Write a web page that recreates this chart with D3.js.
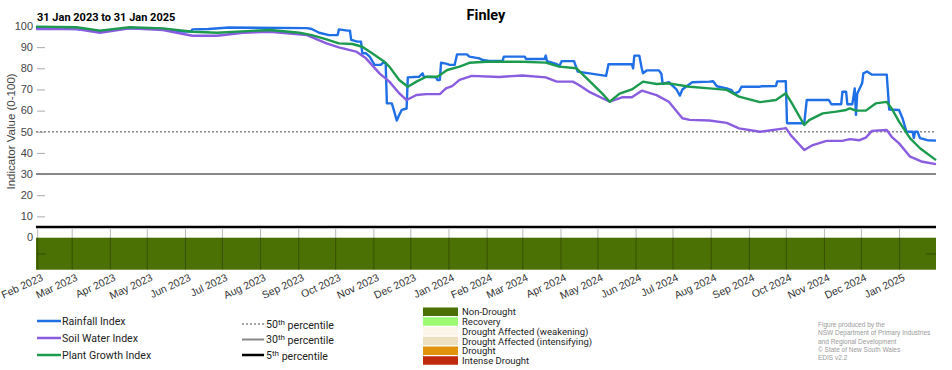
<!DOCTYPE html>
<html>
<head>
<meta charset="utf-8">
<script src="https://cdn.jsdelivr.net/npm/d3@7"></script>
<style>
  body { margin: 0; background: #fff; }
  svg { display: block; font-family: "Liberation Sans", Arial, sans-serif; }
  .legend text { font-family: Roboto, "Liberation Sans", sans-serif; }
</style>
</head>
<body>
<svg id="chart" width="952" height="370"></svg>
<script>
const title = "Finley";
const period = "31 Jan 2023 to 31 Jan 2025";
const dateRange = ["2023-01-31", "2025-01-31"];
const yTicks = [0, 10, 20, 30, 40, 50, 60, 70, 80, 90, 100];

const rainfall = [
    ["2023-01-31", 99], ["2023-03-05", 98.6], ["2023-03-24", 97.6], ["2023-04-17", 99],
    ["2023-05-14", 98.6], ["2023-05-30", 97.4], ["2023-06-06", 97.4], ["2023-06-07", 98.4],
    ["2023-06-20", 98.6], ["2023-07-07", 99.3], ["2023-09-08", 99], ["2023-09-12", 98.6],
    ["2023-09-18", 96.8], ["2023-09-26", 95.7], ["2023-10-03", 95.7], ["2023-10-04", 98.4],
    ["2023-10-11", 97.8], ["2023-10-13", 97.8], ["2023-10-14", 93.4], ["2023-10-19", 92.6],
    ["2023-10-22", 92.6], ["2023-10-23", 87.1], ["2023-10-26", 87.1], ["2023-10-29", 85.5],
    ["2023-11-02", 81.6], ["2023-11-07", 81.6], ["2023-11-09", 82.7], ["2023-11-11", 82.5],
    ["2023-11-12", 63.4], ["2023-11-16", 63.4], ["2023-11-18", 59.5], ["2023-11-20", 55.3],
    ["2023-11-22", 57.9], ["2023-11-24", 60.3], ["2023-11-28", 61], ["2023-11-29", 75.7],
    ["2023-12-08", 76], ["2023-12-11", 77.6], ["2023-12-12", 76], ["2023-12-22", 75.8],
    ["2023-12-23", 74.5], ["2023-12-25", 74.5], ["2023-12-26", 82.6], ["2023-12-30", 82.2],
    ["2024-01-02", 81.6], ["2024-01-06", 81.6], ["2024-01-08", 86.6], ["2024-01-16", 86.6],
    ["2024-01-18", 85.5], ["2024-01-26", 84.7], ["2024-01-29", 83.9], ["2024-02-03", 83.5],
    ["2024-02-14", 83.5], ["2024-02-15", 85.5], ["2024-03-03", 85.5], ["2024-03-04", 84.4],
    ["2024-03-19", 84.4], ["2024-03-20", 86], ["2024-03-21", 83.4], ["2024-03-29", 82],
    ["2024-03-31", 81], ["2024-04-02", 83.4], ["2024-04-12", 83.4], ["2024-04-15", 78.4],
    ["2024-05-08", 76.4], ["2024-05-10", 81.9], ["2024-05-29", 81.9], ["2024-05-30", 80],
    ["2024-05-31", 86], ["2024-06-04", 86], ["2024-06-06", 80], ["2024-06-07", 77.7],
    ["2024-06-10", 79], ["2024-06-20", 79], ["2024-06-22", 77.3], ["2024-06-23", 72.6],
    ["2024-06-28", 73.4], ["2024-07-04", 70.2], ["2024-07-07", 67.1], ["2024-07-09", 70],
    ["2024-07-15", 72.6], ["2024-07-17", 73.4], ["2024-07-31", 73.7], ["2024-08-03", 73.9],
    ["2024-08-06", 71.5], ["2024-08-14", 70.5], ["2024-08-18", 69.7], ["2024-08-20", 68],
    ["2024-08-24", 69], ["2024-08-26", 71.3], ["2024-09-10", 71.3], ["2024-09-11", 71.5],
    ["2024-09-23", 71.6], ["2024-09-24", 73.8], ["2024-10-01", 73.9], ["2024-10-02", 54],
    ["2024-10-16", 54], ["2024-10-18", 65], ["2024-11-05", 65], ["2024-11-07", 63],
    ["2024-11-15", 63], ["2024-11-16", 68.9], ["2024-11-19", 68.9], ["2024-11-20", 63],
    ["2024-11-24", 63], ["2024-11-26", 70.5], ["2024-11-27", 58], ["2024-11-28", 68],
    ["2024-12-02", 72.9], ["2024-12-03", 77.6], ["2024-12-06", 78.5], ["2024-12-10", 77],
    ["2024-12-22", 77], ["2024-12-24", 60.5], ["2025-01-01", 60.3], ["2025-01-04", 56],
    ["2025-01-07", 50], ["2025-01-12", 50], ["2025-01-13", 47], ["2025-01-14", 50],
    ["2025-01-16", 50], ["2025-01-18", 47], ["2025-01-24", 46], ["2025-01-31", 45.8]
];

const soilWater = [
    ["2023-01-31", 98.6], ["2023-03-05", 98.6], ["2023-03-24", 96.8], ["2023-04-17", 98.9],
    ["2023-05-14", 98.1], ["2023-06-07", 95.4], ["2023-06-27", 95.4], ["2023-07-18", 96.8],
    ["2023-08-09", 97.3], ["2023-09-08", 95.7], ["2023-09-24", 91.8], ["2023-10-04", 89.9],
    ["2023-10-18", 87.9], ["2023-10-26", 84.7], ["2023-11-06", 77.6], ["2023-11-14", 73.7],
    ["2023-11-22", 68.2], ["2023-11-28", 65], ["2023-12-06", 67.4], ["2023-12-14", 67.8],
    ["2023-12-25", 67.8], ["2023-12-30", 70.5], ["2024-01-04", 71.6], ["2024-01-10", 74.5],
    ["2024-01-20", 76.4], ["2024-02-11", 75.9], ["2024-03-01", 76.6], ["2024-03-20", 75.7],
    ["2024-03-29", 73.7], ["2024-04-11", 73.7], ["2024-04-16", 72.1], ["2024-04-24", 69],
    ["2024-05-11", 64.2], ["2024-05-21", 66.3], ["2024-05-29", 66.3], ["2024-06-06", 69.4],
    ["2024-06-18", 67.3], ["2024-06-28", 64.2], ["2024-07-09", 56.4], ["2024-07-15", 55.6],
    ["2024-07-31", 55.3], ["2024-08-14", 54.2], ["2024-08-24", 51.6], ["2024-09-10", 50],
    ["2024-09-30", 51.6], ["2024-10-01", 51.8], ["2024-10-05", 48.4], ["2024-10-16", 41.4],
    ["2024-10-23", 43.7], ["2024-11-03", 45.7], ["2024-11-16", 45.7], ["2024-11-22", 46.5],
    ["2024-11-30", 46], ["2024-12-05", 47.2], ["2024-12-10", 50.4], ["2024-12-22", 50.8],
    ["2024-12-26", 47.6], ["2025-01-01", 44.5], ["2025-01-10", 38.2], ["2025-01-20", 35.8],
    ["2025-01-31", 34.7]
];

const plantGrowth = [
    ["2023-01-31", 99.7], ["2023-03-05", 99.4], ["2023-03-24", 97.8], ["2023-04-17", 99.4],
    ["2023-05-14", 98.9], ["2023-06-07", 97.3], ["2023-06-27", 96.8], ["2023-07-21", 97.6],
    ["2023-08-09", 98.1], ["2023-09-02", 96.8], ["2023-09-12", 95.7], ["2023-09-24", 93.7],
    ["2023-10-04", 91.8], ["2023-10-15", 91.5], ["2023-10-23", 90.2], ["2023-10-31", 87.1],
    ["2023-11-10", 83.1], ["2023-11-14", 80.8], ["2023-11-22", 74.5], ["2023-11-29", 71.3],
    ["2023-12-06", 73.7], ["2023-12-14", 76], ["2023-12-23", 76], ["2023-12-31", 79.2],
    ["2024-01-10", 80.8], ["2024-01-18", 82.6], ["2024-02-01", 83.1], ["2024-03-01", 83.1],
    ["2024-03-20", 82.7], ["2024-03-31", 80.8], ["2024-04-14", 80], ["2024-04-24", 74.3],
    ["2024-05-05", 68], ["2024-05-11", 64.2], ["2024-05-19", 68], ["2024-05-29", 70],
    ["2024-06-07", 73.7], ["2024-06-18", 72.6], ["2024-06-28", 72.9], ["2024-07-15", 71.3],
    ["2024-07-31", 70.5], ["2024-08-14", 69.8], ["2024-08-24", 66.6], ["2024-09-10", 64],
    ["2024-09-23", 65], ["2024-10-01", 68.2], ["2024-10-06", 63.4], ["2024-10-16", 53.2],
    ["2024-10-20", 55.5], ["2024-10-31", 58.7], ["2024-11-11", 59.5], ["2024-11-19", 60.3],
    ["2024-11-22", 61], ["2024-11-27", 60], ["2024-12-05", 60], ["2024-12-13", 63.4],
    ["2024-12-22", 64.1], ["2024-12-26", 61], ["2025-01-01", 54.8], ["2025-01-10", 46.9],
    ["2025-01-18", 42.2], ["2025-01-31", 36.6]
];

const seriesNames = ["Rainfall Index", "Soil Water Index", "Plant Growth Index"];
const seriesColors = ["#1f6fe6", "#8a5ce0", "#1c9a4e"];

const percentiles = [50, 30, 5];
const percentileNames = ["50", "30", "5"];

const droughtCategories = ["Non-Drought", "Recovery", "Drought Affected (weakening)",
    "Drought Affected (intensifying)", "Drought", "Intense Drought"];
const droughtColors = ["#4b7003", "#9cfb72", "#fcf5ea", "#ece0c1", "#e1940b", "#c0290b"];
const droughtStatus = [["2023-01-31", "2025-01-31", "Non-Drought"]];

const credits = ["Figure produced by the", "NSW Department of Primary Industries",
    "and Regional Development", "\u00a9 State of New South Wales", "EDIS v2.2"];

const parseDate = d3.timeParse("%Y-%m-%d");
const svg = d3.select("#chart");

const x = d3.scaleTime()
    .domain(dateRange.map(parseDate))
    .range([36, 936]);

const y = d3.scaleLinear()
    .domain([0, 100])
    .range([237.5, 26]);

const droughtColor = d3.scaleOrdinal().domain(droughtCategories).range(droughtColors);

// drought status bar
svg.append("g").selectAll("rect")
    .data(droughtStatus)
    .join("rect")
    .attr("x", d => x(parseDate(d[0])))
    .attr("width", d => x(parseDate(d[1])) - x(parseDate(d[0])))
    .attr("y", 237.7)
    .attr("height", 32)
    .attr("fill", d => droughtColor(d[2]));

// month gridlines in the status panel
const months = d3.timeMonth.range(parseDate("2023-02-01"), parseDate("2025-01-31"));
svg.append("g")
    .attr("transform", "translate(0,229)")
    .call(d3.axisBottom(x).tickValues(months).tickFormat("").tickSize(41))
    .call(g => g.select(".domain").remove())
    .call(g => g.selectAll("line").attr("stroke", "rgba(0,0,0,0.28)"));

// small axis ticks on the status panel
svg.append("g").selectAll("line")
    .data([[37, 46], [926, 936]])
    .join("line")
    .attr("x1", d => d[0]).attr("x2", d => d[1])
    .attr("y1", 254).attr("y2", 254)
    .attr("stroke", "rgba(0,0,0,0.3)");

// month labels
const xAxis = svg.append("g")
    .attr("transform", "translate(0,270)")
    .call(d3.axisBottom(x).tickValues(months).tickFormat(d3.timeFormat("%b %Y")).tickSize(0))
    .call(g => g.select(".domain").remove());
xAxis.selectAll("text")
    .attr("font-size", 10.5)
    .attr("fill", "#333")
    .attr("text-anchor", "end")
    .attr("dy", null)
    .attr("y", 0)
    .attr("transform", "translate(6,10) rotate(-25)");

// y axis
svg.append("g")
    .attr("transform", "translate(37,0)")
    .call(d3.axisRight(y).tickValues(yTicks.filter(t => t > 0)).tickSize(8).tickFormat(""))
    .call(g => g.select(".domain").remove())
    .call(g => g.selectAll("line").attr("stroke", "#aaa"));
svg.append("g").selectAll("text")
    .data(yTicks)
    .join("text")
    .attr("x", 33)
    .attr("y", d => y(d))
    .attr("dy", "0.35em")
    .attr("text-anchor", "end")
    .attr("font-size", 11)
    .attr("fill", "#444")
    .text(d => d);

svg.append("text")
    .attr("transform", `translate(15,${(y(100) + y(5)) / 2 + 5}) rotate(-90)`)
    .attr("text-anchor", "middle")
    .attr("font-size", 11.5)
    .attr("fill", "#444")
    .text("Indicator Value (0-100)");

// percentile lines
const pctStyle = [
    {stroke: "#888", width: 1.5, dash: "2,2"},
    {stroke: "#888", width: 2, dash: null},
    {stroke: "#000", width: 2.5, dash: null}
];
svg.append("g").selectAll("line")
    .data(percentiles)
    .join("line")
    .attr("x1", x.range()[0]).attr("x2", x.range()[1])
    .attr("y1", d => y(d)).attr("y2", d => y(d))
    .attr("stroke", (d, i) => pctStyle[i].stroke)
    .attr("stroke-width", (d, i) => pctStyle[i].width)
    .attr("stroke-dasharray", (d, i) => pctStyle[i].dash);

// index lines
const line = d3.line()
    .x(d => x(parseDate(d[0])))
    .y(d => y(d[1]));

[rainfall, soilWater, plantGrowth].forEach((s, i) => {
    svg.append("path")
        .datum(s)
        .attr("fill", "none")
        .attr("stroke", seriesColors[i])
        .attr("stroke-width", 2.4)
        .attr("stroke-linejoin", "round")
        .attr("d", line);
});

// titles
svg.append("text")
    .attr("x", 486).attr("y", 20)
    .attr("text-anchor", "middle")
    .attr("font-family", "Roboto, sans-serif")
    .attr("font-weight", "bold")
    .attr("font-size", 14.5)
    .text(title);

svg.append("text")
    .attr("x", 37).attr("y", 21)
    .attr("font-family", "Roboto, sans-serif")
    .attr("font-weight", "bold")
    .attr("font-size", 11)
    .text(period);

// legends
const legend = svg.append("g").attr("class", "legend");

const sLeg = legend.selectAll(".s")
    .data(seriesNames)
    .join("g")
    .attr("transform", (d, i) => `translate(37, ${321 + i * 17})`);
sLeg.append("line")
    .attr("x2", 24)
    .attr("stroke", (d, i) => seriesColors[i])
    .attr("stroke-width", 2.5);
sLeg.append("text")
    .attr("x", 25).attr("dy", "0.35em")
    .attr("font-size", 10.6)
    .attr("fill", "#222")
    .text(d => d);

const pLeg = legend.selectAll(".p")
    .data(percentileNames)
    .join("g")
    .attr("transform", (d, i) => `translate(242, ${324 + i * 15.5})`);
pLeg.append("line")
    .attr("x2", 22)
    .attr("stroke", (d, i) => pctStyle[i].stroke)
    .attr("stroke-width", (d, i) => pctStyle[i].width)
    .attr("stroke-dasharray", (d, i) => pctStyle[i].dash);
const pText = pLeg.append("text")
    .attr("x", 24).attr("dy", "0.35em")
    .attr("font-size", 10.6)
    .attr("fill", "#222");
pText.append("tspan").text(d => d);
pText.append("tspan").attr("dy", "-0.4em").attr("font-size", 8).text("th");
pText.append("tspan").attr("dy", "0.4em").text(" percentile");

const dLeg = legend.selectAll(".d")
    .data(droughtCategories)
    .join("g")
    .attr("transform", (d, i) => `translate(423, ${307.5 + i * 9.75})`);
dLeg.append("rect")
    .attr("width", 35).attr("height", 8.5)
    .attr("fill", d => droughtColor(d));
dLeg.append("text")
    .attr("x", 39).attr("y", 4.5).attr("dy", "0.35em")
    .attr("font-size", 9.5)
    .attr("fill", "#222")
    .text(d => d);

svg.append("g").selectAll("text")
    .data(credits)
    .join("text")
    .attr("x", 818)
    .attr("y", (d, i) => 327 + i * 8.3)
    .attr("font-size", 6.5)
    .attr("fill", "#999")
    .text(d => d);
</script>
</body>
</html>
